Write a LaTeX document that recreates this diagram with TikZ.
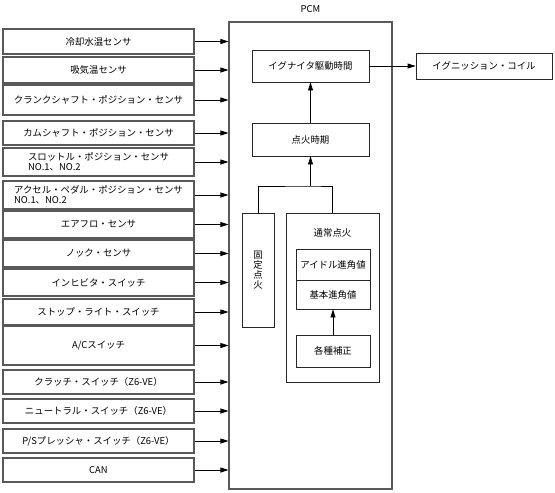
\documentclass[tikz,border=0pt]{standalone}
\usepackage{fontspec}
\setmainfont{Noto Sans CJK JP}
\usetikzlibrary{arrows.meta}

\begin{document}
\begin{tikzpicture}[x=1pt,y=-1pt,>={Triangle[length=8pt,width=5pt]},
    font=\fontsize{9.4}{11}\selectfont,
    sensor/.style={draw=black!65, line width=1.2pt, rectangle, minimum width=191pt, inner sep=1pt},
    unit/.style={draw=black!85, line width=0.8pt, rectangle, inner sep=1pt},
    link/.style={->, line width=0.8pt}]
        \useasboundingbox (0,0) rectangle (555,493);

        % PCM frame
        \node (pcm) [draw=black!65, line width=1.2pt, rectangle, minimum width=163pt, minimum height=467pt] at (310.5,255.5) {};
        \node (pcmlabel) at (310.5,9) {PCM};

        % sensors and switches
        \node (s1) [sensor, minimum height=25pt] at (98.5,41.5) {冷却水温センサ};
        \node (s2) [sensor, minimum height=26pt] at (98.5,70) {吸気温センサ};
        \node (s3) [sensor, minimum height=30pt] at (98.5,100) {クランクシャフト・ポジション・センサ};
        \node (s4) [sensor, minimum height=24pt] at (98.5,133) {カムシャフト・ポジション・センサ};
        \node (s5) [sensor, minimum height=28pt, align=left, font=\fontsize{9.4}{10}\selectfont] at (98.5,162) {スロットル・ポジション・センサ\\NO.1、NO.2};
        \node (s6) [sensor, minimum height=28pt, align=left, font=\fontsize{9.4}{10}\selectfont] at (98.5,195) {アクセル・ペダル・ポジション・センサ\\NO.1、NO.2};
        \node (s7) [sensor, minimum height=27pt] at (98.5,224.5) {エアフロ・センサ};
        \node (s8) [sensor, minimum height=27pt] at (98.5,253.5) {ノック・センサ};
        \node (s9) [sensor, minimum height=27pt] at (98.5,282.5) {インヒビタ・スイッチ};
        \node (s10) [sensor, minimum height=26pt] at (98.5,312) {ストップ・ライト・スイッチ};
        \node (s11) [sensor, minimum height=39pt] at (98.5,345.5) {A/Cスイッチ};
        \node (s12) [sensor, minimum height=24pt] at (98.5,382) {クラッチ・スイッチ（Z6-VE）};
        \node (s13) [sensor, minimum height=24pt] at (98.5,411) {ニュートラル・スイッチ（Z6-VE）};
        \node (s14) [sensor, minimum height=24pt] at (98.5,441) {P/Sプレッシャ・スイッチ（Z6-VE）};
        \node (s15) [sensor, minimum height=24pt] at (98.5,470) {CAN};

        \draw[link] (s1) -- (s1 -| pcm.west);
        \draw[link] (s2) -- (s2 -| pcm.west);
        \draw[link] (s3) -- (s3 -| pcm.west);
        \draw[link] (s4) -- (s4 -| pcm.west);
        \draw[link] (s5) -- (s5 -| pcm.west);
        \draw[link] (s6) -- (s6 -| pcm.west);
        \draw[link] (s7) -- (s7 -| pcm.west);
        \draw[link] (s8) -- (s8 -| pcm.west);
        \draw[link] (s9) -- (s9 -| pcm.west);
        \draw[link] (s10) -- (s10 -| pcm.west);
        \draw[link] (s11) -- (s11 -| pcm.west);
        \draw[link] (s12) -- (s12 -| pcm.west);
        \draw[link] (s13) -- (s13 -| pcm.west);
        \draw[link] (s14) -- (s14 -| pcm.west);
        \draw[link] (s15) -- (s15 -| pcm.west);

        % inside the PCM
        \node (drive) [unit, minimum width=117pt, minimum height=32pt] at (310.5,66) {イグナイタ駆動時間};
        \node (coil) [unit, minimum width=136pt, minimum height=26pt] at (484,66) {イグニッション・コイル};
        \node (timing) [unit, minimum width=117pt, minimum height=33pt] at (310.5,139.5) {点火時期};
        \node (fixed) [unit, minimum width=32pt, minimum height=114pt, align=center, font=\fontsize{9.4}{10}\selectfont] at (258,270) {固\\定\\点\\火};
        \node (normal) [unit, minimum width=93pt, minimum height=169pt] at (332.5,297.5) {};
        \node (normallabel) at (332.5,233) {通常点火};
        \node (idle) [unit, minimum width=74pt, minimum height=31pt] at (333,264.5) {アイドル進角値};
        \node (base) [unit, minimum width=74pt, minimum height=29pt] at (333,294.5) {基本進角値};
        \node (corr) [unit, minimum width=74pt, minimum height=32pt] at (333,351) {各種補正};

        \coordinate (join) at (310.5,186);

        \draw[link] (drive) -- (coil);
        \draw[link] (timing) -- (drive);
        \draw[link] (join) -- (timing);
        \draw[line width=0.8pt] (fixed.north) |- (join) -| (normal.north);
        \draw[link] (corr) -- (base);
\end{tikzpicture}
\end{document}
